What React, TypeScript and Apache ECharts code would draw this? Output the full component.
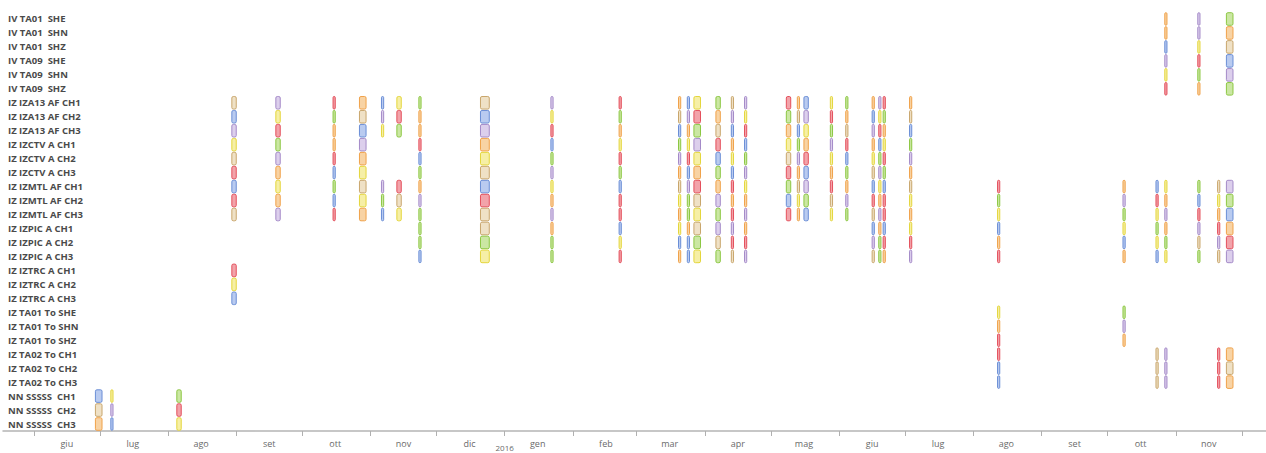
import React, { useEffect, useRef } from 'react';
import * as echarts from 'echarts';

// Channel rows, top to bottom (network, station, location, channel)
const channels = [
  'IV TA01  SHE', 'IV TA01  SHN', 'IV TA01  SHZ',
  'IV TA09  SHE', 'IV TA09  SHN', 'IV TA09  SHZ',
  'IZ IZA13 AF CH1', 'IZ IZA13 AF CH2', 'IZ IZA13 AF CH3',
  'IZ IZCTV A CH1', 'IZ IZCTV A CH2', 'IZ IZCTV A CH3',
  'IZ IZMTL AF CH1', 'IZ IZMTL AF CH2', 'IZ IZMTL AF CH3',
  'IZ IZPIC A CH1', 'IZ IZPIC A CH2', 'IZ IZPIC A CH3',
  'IZ IZTRC A CH1', 'IZ IZTRC A CH2', 'IZ IZTRC A CH3',
  'IZ TA01 To SHE', 'IZ TA01 To SHN', 'IZ TA01 To SHZ',
  'IZ TA02 To CH1', 'IZ TA02 To CH2', 'IZ TA02 To CH3',
  'NN SSSSS  CH1', 'NN SSSSS  CH2', 'NN SSSSS  CH3',
];

const IV = ['IV TA01', 'IV TA09'];
const CAMP = ['IZ IZA13', 'IZ IZCTV', 'IZ IZMTL'];
const CAMP_PIC = ['IZ IZA13', 'IZ IZCTV', 'IZ IZMTL', 'IZ IZPIC'];
const EDGE = ['IZ IZA13', 'IZ IZMTL'];
const MTL_PIC = ['IZ IZMTL', 'IZ IZPIC'];

// Recording windows: first day, length in days, stations recording
const windowStart = [
  '2015-06-29', '2015-07-06', '2015-08-05', '2015-08-30', '2015-09-19',
  '2015-10-15', '2015-10-27', '2015-11-06', '2015-11-13', '2015-11-23',
  '2015-12-21', '2016-01-22', '2016-02-22', '2016-03-20', '2016-03-24',
  '2016-03-27', '2016-04-06', '2016-04-13', '2016-04-19', '2016-05-08',
  '2016-05-13', '2016-05-16', '2016-05-28', '2016-06-04', '2016-06-16',
  '2016-06-19', '2016-06-21', '2016-07-03', '2016-08-12', '2016-10-08',
  '2016-10-23', '2016-10-27', '2016-11-11', '2016-11-20', '2016-11-24',
];
const windowDays = [
  3, 1, 2, 2, 2,
  1, 3, 1, 2, 1,
  4, 1, 1, 1, 1,
  3, 2, 1, 1, 2,
  1, 2, 1, 1, 1,
  1, 1, 1, 1, 1,
  1, 1, 1, 1, 3,
];
const windowStations: string[][] = [
  ['NN SSSSS'], ['NN SSSSS'], ['NN SSSSS'], [...CAMP, 'IZ IZTRC'], CAMP,
  CAMP, CAMP, EDGE, EDGE, CAMP_PIC,
  CAMP_PIC, CAMP_PIC, CAMP_PIC, CAMP_PIC, CAMP_PIC,
  CAMP_PIC, CAMP_PIC, CAMP_PIC, CAMP_PIC, CAMP,
  CAMP, CAMP, CAMP, CAMP, CAMP_PIC,
  CAMP_PIC, CAMP_PIC, CAMP_PIC, [...MTL_PIC, 'IZ TA01', 'IZ TA02'], [...MTL_PIC, 'IZ TA01'],
  [...MTL_PIC, 'IZ TA02'], [...IV, ...MTL_PIC, 'IZ TA02'], [...IV, ...MTL_PIC], [...MTL_PIC, 'IZ TA02'], [...IV, ...MTL_PIC, 'IZ TA02'],
];

// Cell colours of each window, one letter per row in row order
const windowTones = [
  'bto', 'ypb', 'gry', 'tbpytrbrtryb', 'pyrgpoyop',
  'rgoorbgbr', 'otbpoytyo', 'bpypgb', 'yrgrty', 'goorbgopgggb',
  'tbpoytbrttgy', 'pyrbgpyopogg', 'rgoyrgbrrbyr', 'otbgpotyoybo', 'bpoyrbpggobb',
  'yrgpyortytgy', 'gotrbgopgptg', 'tpboybrorprt', 'pyrbgpyoporp', 'rgoytrgbr',
  'otbgpotyo', 'bpyorbpgb', 'yrgpyorty', 'gotrbgopg', 'obpoytbrtbpt',
  'pyrbgpyopogg', 'rgoyrgbrrbro', 'otbgpotyoyrp', 'rgyboryorrbb', 'opgybogpo',
  'brygybttt', 'oobpyryopogyppp', 'ppyrgogbrptg', 'tyorptrrr', 'gotbpgpgborpoto',
];

const tones: Record<string, { stroke: string; fill: string }> = {
  o: { stroke: '#f0a24a', fill: '#f8d3a4' },
  t: { stroke: '#c9a66c', fill: '#efe1c6' },
  b: { stroke: '#6a8ed6', fill: '#b9cbf0' },
  p: { stroke: '#a48ac8', fill: '#dccfec' },
  y: { stroke: '#e4d63c', fill: '#f6efa6' },
  r: { stroke: '#e4505c', fill: '#f2a3aa' },
  g: { stroke: '#8cc743', fill: '#cbe7a3' },
};
const toneKeys = Object.keys(tones);

const monthNames = ['gen', 'feb', 'mar', 'apr', 'mag', 'giu', 'lug', 'ago', 'set', 'ott', 'nov', 'dic'];

const DAY = 86400000;
const parseDay = (s: string) => {
  const [y, m, d] = s.split('-').map(Number);
  return Date.UTC(y, m - 1, d);
};

const axisMin = parseDay('2015-05-18');
const axisMax = parseDay('2016-12-12');
const yearMark = parseDay('2016-01-01');

function buildCells() {
  const cells: number[][] = [];
  windowStart.forEach((start, w) => {
    const t0 = parseDay(start);
    const t1 = t0 + windowDays[w] * DAY;
    const rows = channels
      .map((name, i) => ({ name, i }))
      .filter(({ name }) => windowStations[w].some((s) => name.startsWith(s + ' ')));
    rows.forEach(({ i }, k) => {
      const key = windowTones[w][k] || 'o';
      cells.push([t0, t1, i, toneKeys.indexOf(key)]);
    });
  });
  return cells;
}

// Month boundaries (ticks) and mid-month points (labels), June 2015 .. December 2016
function monthMarks() {
  const starts: number[] = [];
  const mids: number[] = [];
  let y = 2015;
  let m = 5;
  while (y < 2016 || (y === 2016 && m <= 11)) {
    starts.push(Date.UTC(y, m, 1));
    if (!(y === 2016 && m === 11)) mids.push(Date.UTC(y, m, 16));
    m += 1;
    if (m > 11) { m = 0; y += 1; }
  }
  return { starts, mids };
}

export default function App() {
  const ref = useRef<HTMLDivElement>(null);

  useEffect(() => {
    if (!ref.current) return;
    const chart = echarts.init(ref.current, undefined, { renderer: 'svg' });
    const { starts, mids } = monthMarks();
    const cells = buildCells();

    chart.setOption({
      animation: false,
      backgroundColor: '#ffffff',
      grid: { left: 3, right: 0, top: 12, bottom: 22, containLabel: false, outerBoundsMode: 'none' },
      xAxis: [
        {
          type: 'value',
          min: axisMin,
          max: axisMax,
          axisLine: { show: true, lineStyle: { color: '#b4b4b4', width: 1.5 } },
          axisTick: { show: true, customValues: starts, length: 5, lineStyle: { color: '#b0b0b0', width: 1 } },
          axisLabel: {
            customValues: mids,
            formatter: (v: number) => monthNames[new Date(v).getUTCMonth()],
            color: '#6a6a6a',
            fontSize: 9,
            fontFamily: 'Open Sans',
            margin: 8,
          },
          splitLine: { show: false },
        },
        {
          type: 'value',
          min: axisMin,
          max: axisMax,
          position: 'bottom',
          axisLine: { show: false },
          axisTick: { show: false },
          axisLabel: {
            customValues: [yearMark],
            formatter: () => '2016',
            color: '#6a6a6a',
            fontSize: 8,
            fontFamily: 'Open Sans',
            margin: 12,
          },
          splitLine: { show: false },
        },
      ],
      yAxis: {
        type: 'category',
        data: channels,
        inverse: true,
        axisLine: { show: false },
        axisTick: { show: false },
        splitLine: { show: false },
        axisLabel: {
          inside: true,
          margin: 5,
          fontSize: 9.5,
          fontWeight: 'bold',
          fontFamily: 'Open Sans',
          color: '#4a4a4a',
        },
      },
      series: [
        {
          type: 'custom',
          xAxisIndex: 0,
          dimensions: ['start', 'end', 'row', 'tone'],
          encode: { x: [0, 1], y: 2 },
          data: cells,
          renderItem: (params: any, api: any) => {
            const row = api.value(2);
            const p0 = api.coord([api.value(0), row]);
            const p1 = api.coord([api.value(1), row]);
            const band = api.size([0, 1])[1];
            const h = band - 1.4;
            const tone = tones[toneKeys[api.value(3)]];
            return {
              type: 'rect',
              shape: { x: p0[0], y: p0[1] - h / 2, width: Math.max(p1[0] - p0[0], 1), height: h, r: 1.5 },
              style: { fill: tone.fill, stroke: tone.stroke, lineWidth: 1 },
            };
          },
        },
      ],
    });

    return () => chart.dispose();
  }, []);

  return (
    <div
      ref={ref}
      style={{ position: 'fixed', left: 0, top: 0, width: 1266, height: 453, background: '#fff' }}
    />
  );
}
